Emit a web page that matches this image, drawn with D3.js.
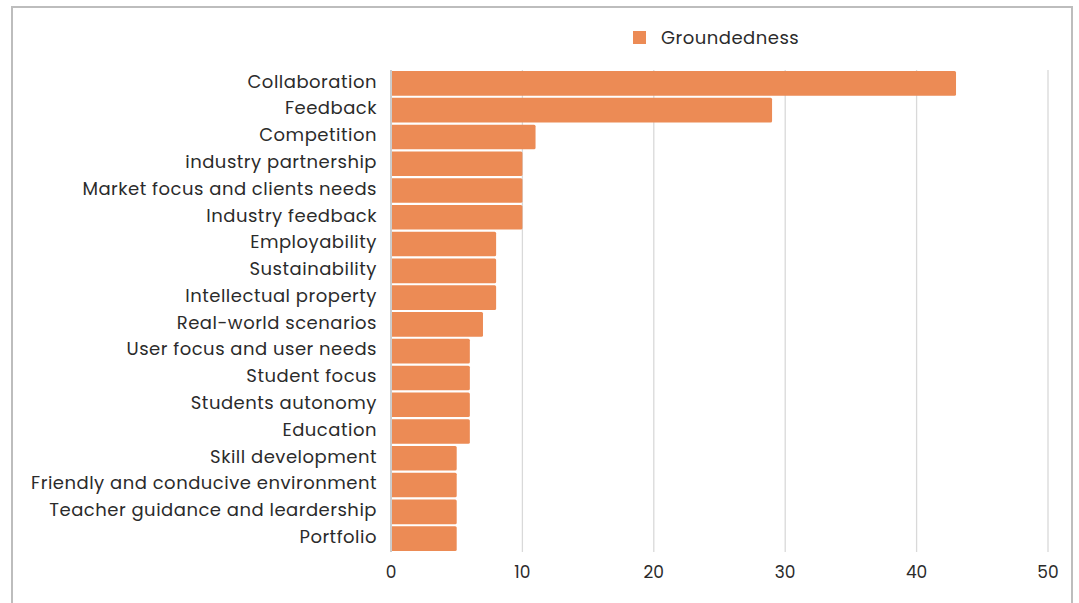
<html>
<head>
<script src="https://d3js.org/d3.v7.min.js"></script>
<style>
body { margin: 0; background: #fff; }
</style>
</head>
<body>
<script>
const categories = [
    "Collaboration", "Feedback", "Competition", "industry partnership",
    "Market focus and clients needs", "Industry feedback", "Employability",
    "Sustainability", "Intellectual property", "Real-world scenarios",
    "User focus and user needs", "Student focus", "Students autonomy",
    "Education", "Skill development", "Friendly and conducive environment",
    "Teacher guidance and leardership", "Portfolio"
];
const groundedness = [43, 29, 11, 10, 10, 10, 8, 8, 8, 7, 6, 6, 6, 6, 5, 5, 5, 5];
const xTicks = [0, 10, 20, 30, 40, 50];
const seriesName = "Groundedness";

const width = 1079, height = 603;
const font = "Poppins, 'Open Sans', sans-serif";
const barColor = "#ec8b55";

const svg = d3.select("body").append("svg")
    .attr("width", width).attr("height", height);

// frame
svg.append("rect")
    .attr("x", 12).attr("y", 7)
    .attr("width", 1060).attr("height", 610)
    .attr("fill", "none").attr("stroke", "#bdbdbd").attr("stroke-width", 2);

const x = d3.scaleLinear().domain([0, 50]).range([391, 1048]);
const y = d3.scaleBand().domain(categories).range([70, 552]).paddingInner(0.08).paddingOuter(0.04);

// grid
svg.append("g").selectAll("line")
    .data(xTicks.slice(1))
    .join("line")
    .attr("x1", d => x(d)).attr("x2", d => x(d))
    .attr("y1", 70).attr("y2", 552)
    .attr("stroke", "#d9d9d9").attr("stroke-width", 1.3);

// bars
svg.append("g").selectAll("path")
    .data(categories)
    .join("path")
    .attr("fill", barColor)
    .attr("d", (d, i) => {
        const x0 = x(0) + 1, x1 = x(groundedness[i]);
        const y0 = y(d), h = y.bandwidth(), r = 1.5;
        return `M${x0},${y0}H${x1 - r}Q${x1},${y0} ${x1},${y0 + r}V${y0 + h - r}Q${x1},${y0 + h} ${x1 - r},${y0 + h}H${x0}Z`;
    });

// baseline
svg.append("line")
    .attr("x1", x(0)).attr("x2", x(0))
    .attr("y1", 70).attr("y2", 552)
    .attr("stroke", "#b0b0b0").attr("stroke-width", 1.3);

// category labels
svg.append("g").selectAll("text")
    .data(categories)
    .join("text")
    .attr("x", 377)
    .attr("y", d => y(d) + y.bandwidth() / 2 - 2)
    .attr("dy", "0.35em")
    .attr("text-anchor", "end")
    .attr("font-family", font)
    .attr("font-size", 18)
    .attr("letter-spacing", "0.5px")
    .attr("fill", "#2b2b2b")
    .text(d => d);

// x tick labels
svg.append("g").selectAll("text")
    .data(xTicks)
    .join("text")
    .attr("x", d => x(d))
    .attr("y", 578)
    .attr("text-anchor", "middle")
    .attr("font-family", font)
    .attr("font-size", 17)
    .attr("fill", "#2b2b2b")
    .text(d => d);

// legend
svg.append("rect")
    .attr("x", 633).attr("y", 31)
    .attr("width", 13).attr("height", 13)
    .attr("fill", barColor);
svg.append("text")
    .attr("x", 661).attr("y", 44)
    .attr("font-family", font)
    .attr("font-size", 18)
    .attr("letter-spacing", "0.5px")
    .attr("fill", "#2b2b2b")
    .text(seriesName);
</script>
</body>
</html>
